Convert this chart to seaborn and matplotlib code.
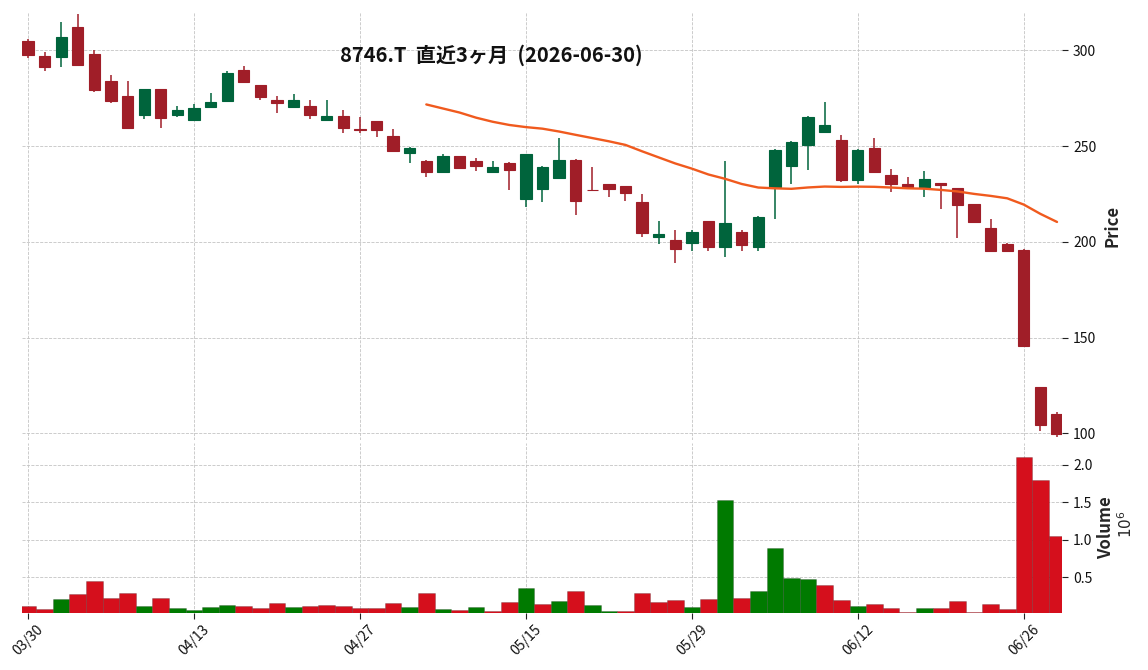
import numpy as np
import pandas as pd
import matplotlib
matplotlib.use("Agg")
import matplotlib.pyplot as plt
import seaborn as sns

# ---------------- data ----------------
holidays = ["2026-04-29", "2026-05-04", "2026-05-05", "2026-05-06"]
dates = [d for d in pd.bdate_range("2026-03-30", "2026-06-30")
         if d.strftime("%Y-%m-%d") not in holidays]

opens = [305, 297, 296.5, 312, 298, 284, 276, 266.2, 279.8, 266.2,
         263.6, 270.4, 273.7, 289.7, 282, 274, 270.4, 271, 263.6, 265.7,
         259, 263, 255, 246.5, 242.2, 236.4, 244.8, 242.2, 236.4, 241.2,
         222.4, 227.8, 233.3, 242.7, 227, 230.2, 229.1, 220.8, 202.7, 201,
         199.5, 211, 197.5, 205, 197.5, 228.8, 239.8, 250.6, 257.3, 253.2,
         232.3, 249, 235, 230.4, 228.4, 230.7, 228, 219.7, 207.2, 199,
         195.7, 124.2, 110.2]
highs = [306, 299, 314.6, 319, 300, 287, 284, 280, 280, 270.7,
         271.8, 277.5, 289.2, 291.8, 282, 276, 277, 274, 274, 268.8,
         265, 263, 258.7, 249.5, 242.5, 245.8, 245, 243.8, 242, 241.5,
         246, 239.5, 254, 243, 239, 230.3, 229.2, 224.8, 210.7, 206,
         206, 211, 242.4, 206.2, 213.5, 248.5, 252.5, 265.5, 272.8, 255.6,
         248.2, 254.2, 237.8, 233.7, 236.8, 230.8, 228.2, 219.8, 211.7, 199.2,
         196.2, 124.3, 111.1]
lows = [295.8, 289.4, 291.5, 292, 278, 272.7, 259.5, 264, 259.6, 265.3,
        263.5, 270.3, 273.5, 283.5, 274, 267.4, 269.7, 264, 263.5, 256.6,
        256.6, 254.6, 247, 241, 233.7, 235.8, 237.8, 236.8, 236.3, 227,
        218, 220.6, 233, 213.8, 226.7, 223.6, 221.5, 202.7, 198.7, 188.8,
        195, 195, 192, 195, 195.4, 211.7, 230.4, 237.7, 256.6, 231.4,
        230.4, 235.8, 225.8, 228.7, 223.6, 217, 201.8, 210.4, 195, 194.8,
        145.5, 101.4, 97.9]
closes = [297.5, 291.5, 307, 292.5, 279.3, 273.7, 259.6, 279.8, 264.8, 268.8,
          269.9, 273, 288.1, 283.6, 275.6, 272.7, 274, 266.2, 265.7, 259.6,
          258.5, 258.4, 247.5, 249.2, 236.6, 244.8, 238.7, 239.8, 239.1, 237.5,
          245.8, 239.1, 242.7, 221.3, 226.8, 227.7, 225.7, 204.8, 204.1, 196.4,
          205.1, 197.5, 209.8, 198.5, 213.1, 248, 252.1, 265.2, 261, 232.3,
          248, 236.4, 230.4, 228.8, 232.8, 229.7, 219.4, 210.5, 195.2, 195.2,
          145.6, 104.4, 99.6]
volume_millions = [0.117, 0.077, 0.210, 0.277, 0.451, 0.224, 0.291, 0.117, 0.224, 0.090,
                   0.064, 0.104, 0.130, 0.117, 0.090, 0.157, 0.104, 0.117, 0.130, 0.117,
                   0.090, 0.090, 0.157, 0.104, 0.291, 0.077, 0.064, 0.104, 0.050, 0.170,
                   0.357, 0.144, 0.184, 0.317, 0.130, 0.050, 0.050, 0.291, 0.170, 0.197,
                   0.104, 0.210, 1.531, 0.224, 0.317, 0.891, 0.495, 0.478, 0.397, 0.197,
                   0.117, 0.144, 0.090, 0.037, 0.090, 0.090, 0.184, 0.037, 0.144, 0.077,
                   2.106, 1.799, 1.052]
ma_window = 25
title = "8746.T  直近3ヶ月  (2026-06-30)"

df = pd.DataFrame({"date": dates, "open": opens, "high": highs, "low": lows,
                   "close": closes, "volume": volume_millions})
df["idx"] = np.arange(len(df))
df["ma"] = df["close"].rolling(ma_window).mean()
df["up"] = df["close"] >= df["open"]
df["vup"] = df["close"] > df["close"].shift(1)

# ---------------- style ----------------
sns.set_theme(style="white")
plt.rcParams["font.family"] = ["Noto Sans CJK JP", "DejaVu Sans"]
plt.rcParams["axes.unicode_minus"] = False

C_UP, C_DN = "#00643c", "#a01e28"
V_UP, V_DN = "#007a00", "#d50f1c"
MA_C = "#f05a1e"
GRID = dict(linestyle="--", color="#c4c4c4", linewidth=0.6)

W, H = 1148, 670
fig = plt.figure(figsize=(W / 100, H / 100), dpi=100)
left, right = 22, 1062
ax1 = fig.add_axes([left / W, (H - 440) / H, (right - left) / W, 428 / H])
ax2 = fig.add_axes([left / W, (H - 612.7) / H, (right - left) / W, 170.2 / H], sharex=ax1)

# ---------------- candles ----------------
body_w = 0.68
for up, col in ((True, C_UP), (False, C_DN)):
    d = df[df["up"] == up]
    ax1.vlines(d["idx"], d["low"], d["high"], color=col, linewidth=1.1, zorder=2)
    bottom = np.minimum(d["open"], d["close"])
    height = np.abs(d["close"] - d["open"])
    ax1.bar(d["idx"], height, bottom=bottom, width=body_w, color=col,
            edgecolor=col, linewidth=0.8, zorder=3)

sns.lineplot(data=df, x="idx", y="ma", ax=ax1, color=MA_C, linewidth=1.7, zorder=4)

# ---------------- volume ----------------
vcols = np.where(df["vup"], V_UP, V_DN)
ax2.bar(df["idx"], df["volume"], width=1.0, color=vcols,
        edgecolor=(0, 0, 0, 0.25), linewidth=0.5, zorder=3)

# ---------------- axes styling ----------------
ax1.set_xlim(-0.36, 62.3)
ax1.set_ylim(96.5, 320)
ax2.set_ylim(0.028, 2.30)

for ax in (ax1, ax2):
    for s in ax.spines.values():
        s.set_visible(False)
    ax.set_facecolor("white")
    ax.grid(True, **GRID)
    ax.set_axisbelow(True)
    ax.yaxis.tick_right()
    ax.yaxis.set_label_position("right")
    ax.tick_params(axis="y", which="both", right=True, left=False, length=4,
                   width=0.8, color="#222222", labelsize=10, pad=4, labelcolor="#111111")

ax1.set_yticks([100, 150, 200, 250, 300])
ax2.set_yticks([0.5, 1.0, 1.5, 2.0])
ax2.set_yticklabels(["0.5", "1.0", "1.5", "2.0"])

tick_pos = df["idx"].values[::10]
tick_lab = [d.strftime("%m/%d") for d in df["date"].iloc[::10]]
ax2.set_xticks(tick_pos)
ax2.set_xticklabels(tick_lab, rotation=45, ha="center")
ax2.tick_params(axis="x", bottom=True, length=4, width=0.8, color="#222222",
                labelsize=10, pad=3, labelcolor="#111111")
ax1.tick_params(axis="x", bottom=False, labelbottom=False)

ax1.set_xlabel("")
ax1.set_ylabel("Price", fontsize=12, fontweight="bold", labelpad=5)
ax2.set_ylabel("Volume", fontsize=12, fontweight="bold", labelpad=3)
ax2.text(1.062, 0.52, "$10^6$", transform=ax2.transAxes, rotation=90,
         ha="center", va="center", fontsize=11)

fig.text(491 / W, 1 - 55 / H, title, ha="center", va="center",
         fontsize=14.5, fontweight="bold", color="#111111")

fig.savefig("out.png", dpi=100, facecolor="white")
